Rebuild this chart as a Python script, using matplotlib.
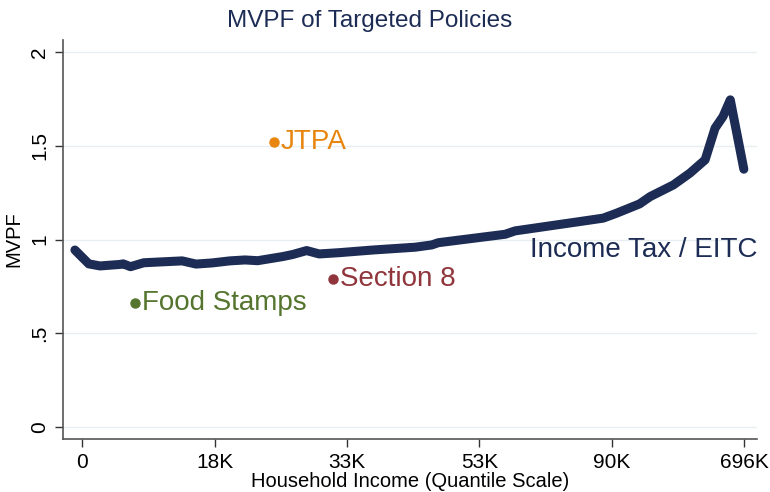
"""MVPF of targeted policies by household income quantile."""

import matplotlib
matplotlib.use("Agg")
import matplotlib.pyplot as plt

plt.rcParams['font.family'] = ['Liberation Sans', 'DejaVu Sans']

# income tax / EITC curve (x in income percentiles)
tax_pct = [-1.1, 1.0, 2.7, 5.7, 6.2, 7.3, 9.3, 15.1, 17.2, 19.6, 22.3, 24.6,
           26.5, 30.3, 31.8, 33.9, 35.8, 38.9, 43.9, 50.3, 52.8, 53.8, 63.9,
           65.4, 75.2, 78.7, 80.7, 84.2, 85.8, 89.3, 91.8, 94.1, 95.6, 96.8,
           97.9, 99.95]
tax_mvpf = [0.944, 0.870, 0.859, 0.867, 0.870, 0.855, 0.876, 0.886, 0.869,
            0.875, 0.886, 0.891, 0.887, 0.909, 0.920, 0.941, 0.923, 0.930,
            0.944, 0.959, 0.971, 0.983, 1.028, 1.046, 1.096, 1.114, 1.140,
            1.190, 1.229, 1.291, 1.354, 1.425, 1.594, 1.656, 1.745, 1.375]

# single policies
policies = ["Food Stamps", "JTPA", "Section 8"]
policy_pct = [8.0, 29.0, 37.9]
policy_mvpf = [0.66, 1.52, 0.79]
policy_colors = ["#55752f", "#e8850e", "#90353b"]

xtick_pos = [0, 20, 40, 60, 80, 100]
xtick_labels = ["0", "18K", "33K", "53K", "90K", "696K"]
ytick_pos = [0, 0.5, 1, 1.5, 2]
ytick_labels = ["0", ".5", "1", "1.5", "2"]

navy = "#1c2c54"

fig = plt.figure(figsize=(7.7, 4.92), dpi=100)
ax = fig.add_axes([0.0818, 0.107, 0.901, 0.812])

for y in ytick_pos:
    ax.axhline(y, color="#e6eef0", lw=1.0, zorder=0)

ax.plot(tax_pct, tax_mvpf, color=navy, lw=6.5, solid_capstyle="round",
        solid_joinstyle="round", zorder=3)
ax.text(67.6, 0.944, "Income Tax / EITC", color=navy, fontsize=20,
        ha="left", va="center")

for name, px, py, c in zip(policies, policy_pct, policy_mvpf, policy_colors):
    ax.plot(px, py, "o", color=c, ms=6.5, zorder=4)
    ax.text(px + 1.0, py, name, color=c, fontsize=20, ha="left", va="center")

ax.set_xlim(-2.9, 101.9)
ax.set_ylim(-0.066, 2.065)
ax.set_xticks(xtick_pos)
ax.set_xticklabels(xtick_labels, fontsize=15)
ax.set_yticks(ytick_pos)
ax.set_yticklabels(ytick_labels, fontsize=15, rotation=90, va="center")
ax.tick_params(axis="both", length=6, width=1, color="#333333", pad=4)

for s in ["top", "right"]:
    ax.spines[s].set_visible(False)
for s in ["left", "bottom"]:
    ax.spines[s].set_color("#555555")
    ax.spines[s].set_linewidth(1.2)

ax.set_xlabel("Household Income (Quantile Scale)", fontsize=14.5, labelpad=0)
ax.set_ylabel("MVPF", fontsize=14.5, labelpad=5)
fig.text(0.48, 0.958, "MVPF of Targeted Policies", color=navy, fontsize=17.5,
         ha="center", va="center")

fig.savefig("out.png", dpi=100)
